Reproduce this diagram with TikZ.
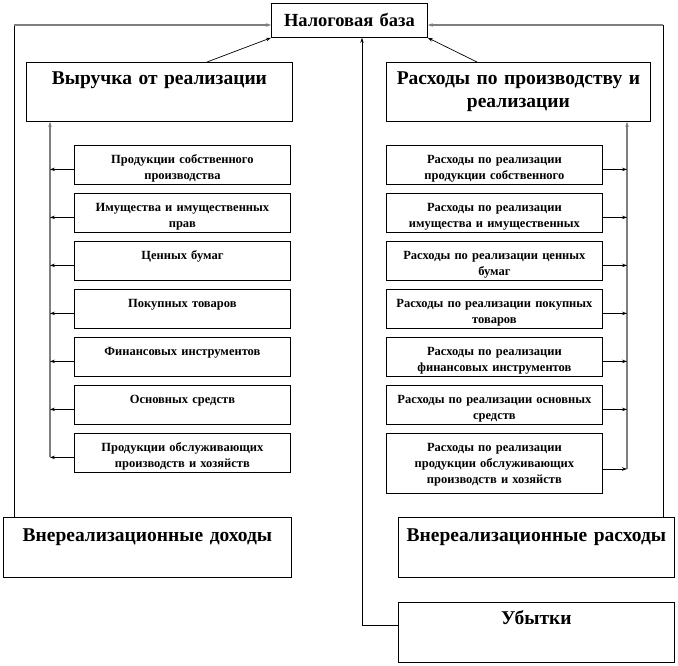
\documentclass[tikz,border=0pt]{standalone}
\usepackage{fontspec}
\setmainfont{Liberation Serif}
\usetikzlibrary{arrows.meta, calc}
\definecolor{linegray}{HTML}{7F7F7F}

\tikzset{
  bigbox/.style={draw, line width=0.8pt, anchor=north west, inner sep=0pt, align=center,
    font=\bfseries\fontsize{19.5}{23}\selectfont},
  itembox/.style={draw, line width=0.8pt, anchor=north west, inner sep=0pt, text width=216pt,
    align=center, font=\bfseries\fontsize{12.5}{16}\selectfont, text height=18pt, text depth=21pt},
  arr/.style={line width=0.7pt, -{Stealth[length=5pt,width=3.5pt]}},
  garr/.style={arr, draw=linegray, line width=1.2pt},
}

\begin{document}
\begin{tikzpicture}[x=1pt, y=-1pt]
  \useasboundingbox (0,0) rectangle (678,665);
  % top and main boxes
  \node[bigbox, font=\bfseries\fontsize{18.5}{20}\selectfont, text width=156pt, text height=23pt, text depth=11pt]
    (base) at (271,3) {Налоговая база};
  \node[bigbox, text width=266pt, text height=22pt, text depth=37pt] (rev) at (26,62) {Выручка от реализации};
  \node[bigbox, text width=264pt, text height=22pt, text depth=37pt] (cost) at (386,62)
    {Расходы по производству и\\ реализации};
  \node[bigbox, text width=288pt, text height=24pt, text depth=36pt] (nonrev) at (3,517) {Внереализационные доходы};
  \node[bigbox, text width=276pt, text height=24pt, text depth=36pt] (noncost) at (398,517) {Внереализационные расходы};
  \node[bigbox, text width=276pt, text height=22pt, text depth=38pt] (loss) at (398,602) {Убытки};

  % revenue items
  \foreach \i/\t in {1/{Продукции собственного\\ производства},
                     2/{Имущества и имущественных\\ прав},
                     3/{Ценных бумаг},
                     4/{Покупных товаров},
                     5/{Финансовых инструментов},
                     6/{Основных средств},
                     7/{Продукции обслуживающих\\ производств и хозяйств}}
    \node[itembox] (li\i) at (74,145+48*\i-48) {\t};
  % cost items
  \foreach \i/\t in {1/{Расходы по реализации\\ продукции собственного},
                     2/{Расходы по реализации\\ имущества и имущественных},
                     3/{Расходы по реализации ценных\\ бумаг},
                     4/{Расходы по реализации покупных\\ товаров},
                     5/{Расходы по реализации\\ финансовых инструментов},
                     6/{Расходы по реализации основных\\ средств}}
    \node[itembox] (ri\i) at (386,145+48*\i-48) {\t};
  \node[itembox, text depth=42pt] (ri7) at (386,433)
    {Расходы по реализации\\ продукции обслуживающих\\ производств и хозяйств};

  % collecting lines
  \coordinate (cl) at (14,25);
  \coordinate (cr) at (663,25);
  \coordinate (mid) at (362,625);
  \coordinate (lb) at (50,457);
  \coordinate (rb) at (627,469);

  \draw[line width=0.7pt] (cl |- nonrev.north) -- (cl);
  \draw[garr] (cl) -- (cl -| base.west);
  \draw[line width=0.7pt] (cr |- noncost.north) -- (cr);
  \draw[garr] (cr) -- (cr -| base.east);
  \draw[arr] (loss.west |- mid) -- (mid) -- (mid |- base.south);
  \draw[arr] ($(rev.north west)+(181,0)$) -- (base.south west);
  \draw[arr] ($(cost.north west)+(91,0)$) -- (base.south east);

  \draw[garr] (lb) -- (lb |- rev.south);
  \draw[garr] (rb) -- (rb |- cost.south);
  \foreach \i in {1,...,7} {
    \draw[arr] ([yshift=-4.5pt]li\i.west) -- ([yshift=-4.5pt]li\i.west -| lb);
  }
  \foreach \i in {1,...,6} {
    \draw[arr] ([yshift=-4.5pt]ri\i.east) -- ([yshift=-4.5pt]ri\i.east -| rb);
  }
  \draw[arr] (ri7.east |- rb) -- (rb);
\end{tikzpicture}
\end{document}
